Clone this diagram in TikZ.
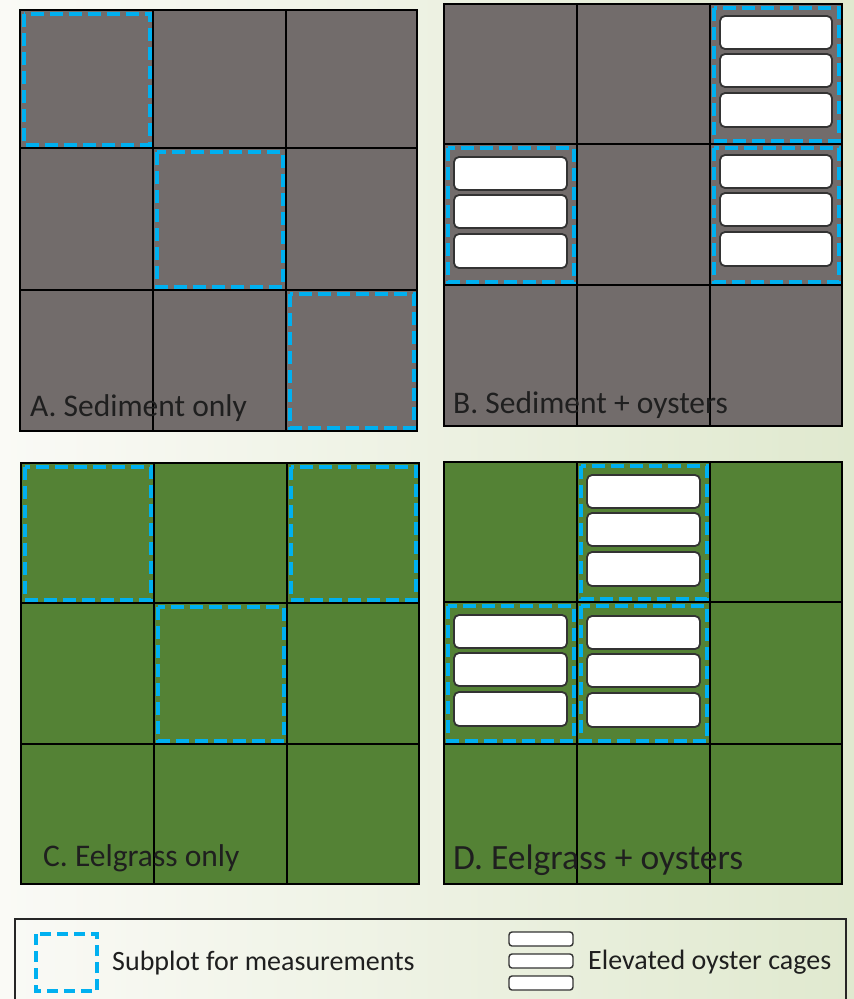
\documentclass[tikz,border=0pt]{standalone}
\usepackage{fontspec}
\setmainfont{Carlito}
\definecolor{sed}{RGB}{114,108,107}
\definecolor{eel}{RGB}{84,130,53}
\definecolor{sub}{RGB}{0,176,240}
\definecolor{bgL}{RGB}{250,250,246}
\definecolor{bgR}{RGB}{224,233,207}
\tikzset{
  gridline/.style={draw=black, line width=1.3pt},
  subplot/.style={draw=sub, line width=4pt, dash pattern=on 13pt off 6pt},
  cage/.style={draw=black!80, line width=1.8pt, fill=white, rounded corners=5pt},
  lcage/.style={draw=black!80, line width=1.4pt, fill=white, rounded corners=3pt},
  lbl/.style={anchor=base west, font=\fontsize{31.5}{36}\selectfont, text=black!88, inner sep=0pt},
  leg/.style={anchor=west, font=\fontsize{28}{32}\selectfont, text=black!88, inner sep=0pt},
}
% panel: x0 y0 x1 y1 xa xb ya yb colour
\newcommand\mypanel[9]{%
  \path[fill=#9, gridline] (#1,#2) rectangle (#3,#4);
  \draw[gridline] (#5,#2)--(#5,#4) (#6,#2)--(#6,#4) (#1,#7)--(#3,#7) (#1,#8)--(#3,#8);
}
\newcommand\mysub[4]{\draw[subplot] ({#1+3.5},{#2+3.5}) rectangle ({#3-3.5},{#4-3.5});}
% cages in cell: x0 y0 x1
\newcommand\mycages[3]{%
  \draw[cage] ({#1+10},{#2+13}) rectangle ({#3-10},{#2+46});
  \draw[cage] ({#1+10},{#2+51}) rectangle ({#3-10},{#2+84});
  \draw[cage] ({#1+10},{#2+90}) rectangle ({#3-10},{#2+124});
}
\begin{document}
\begin{tikzpicture}[x=1pt,y=-1pt]
\useasboundingbox (0,0) rectangle (854,999);
\shade[left color=bgL, right color=bgR] (0,0) rectangle (854,999);

% Panel A
\mypanel{20}{10}{417}{431}{153}{286}{148}{290}{sed}
\mysub{20}{10}{153}{148}
\mysub{153}{148}{286}{290}
\mysub{286}{290}{417}{431}
\node[lbl] (labA) at (30,416) {A. Sediment only};

% Panel B
\mypanel{444}{4}{842}{426}{577}{710}{144}{285}{sed}
\mysub{710}{4}{842}{144}
\mysub{444}{144}{577}{285}
\mysub{710}{144}{842}{285}
\mycages{710}{3}{842}
\mycages{444}{144}{577}
\mycages{710}{142}{842}
\node[lbl] (labB) at (453,413) {B. Sediment + oysters};

% Panel C
\mypanel{21}{463}{419}{884}{154}{287}{603}{744}{eel}
\mysub{21}{463}{154}{603}
\mysub{287}{463}{419}{603}
\mysub{154}{603}{287}{744}
\node[lbl] (labC) at (43,866) {C. Eelgrass only};

% Panel D
\mypanel{444}{462}{842}{884}{577}{710}{602}{744}{eel}
\mysub{577}{462}{710}{602}
\mysub{444}{602}{577}{744}
\mysub{577}{602}{710}{744}
\mycages{577}{462}{710}
\mycages{444}{602}{577}
\mycages{577}{603}{710}
\node[lbl, font=\fontsize{35.5}{40}\selectfont] (labD) at (453,869) {D. Eelgrass + oysters};

% Legend
\draw[black!85, line width=1.5pt] (15,1010) -- (15,919) -- (846,919) -- (846,1010);
\draw[subplot, line width=3.5pt, dash pattern=on 11pt off 6pt] (36,934) rectangle (97,991);
\node[leg] (legA) at (112,963) {Subplot for measurements};
\draw[lcage] (509,932) rectangle (573,946);
\draw[lcage] (509,954) rectangle (573,968);
\draw[lcage] (509,976) rectangle (573,990);
\node[leg] (legB) at (588,962) {Elevated oyster cages};
\end{tikzpicture}
\end{document}
